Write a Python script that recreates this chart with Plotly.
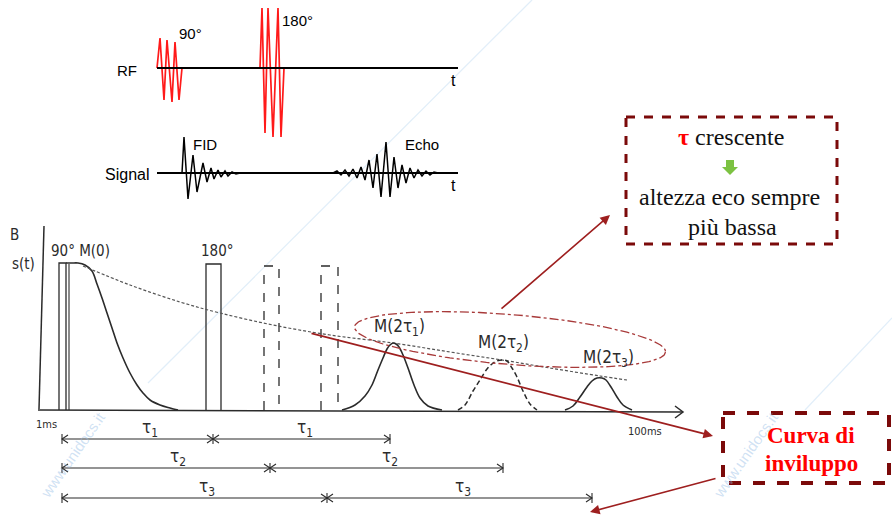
import math
import plotly.graph_objects as go

W, H = 892, 516

# ---------------- top diagram: RF pulses and signal ----------------
rf_line_x = [157, 458]
rf_line_y = [68, 68]
rf90_x = [157, 160, 164, 167, 172, 175, 179, 182]
rf90_y = [68, 38, 100, 40, 102, 42, 100, 68]
rf180_x = [260, 262, 265, 268, 273, 278, 281, 284]
rf180_y = [68, 8, 133, 8, 137, 8, 137, 68]

sig_line_x = [157, 458]
sig_line_y = [173, 173]
fid_x = [182, 184, 188, 193, 197, 203, 207, 211, 214, 218, 221, 225, 228, 232, 236, 240]
fid_y = [173, 137, 199, 155, 192, 163, 182, 168, 179, 170, 177, 171, 176, 172, 174, 173]
echo_x = [333, 337, 341, 345, 349, 353, 357, 361, 365, 369, 373, 377, 381, 386, 390,
          394, 398, 402, 406, 410, 414, 418, 422, 426, 430, 434, 438]
echo_y = [173, 171, 175, 170, 176, 169, 178, 167, 180, 160, 188, 154, 197, 142, 197,
          157, 188, 165, 183, 168, 178, 170, 176, 171, 175, 172, 173]

# ---------------- bottom diagram: spin echo train ----------------
yaxis_x = [39, 44]
yaxis_y = [409, 226]
xaxis_x = [38, 683]
xaxis_y = [410, 412]

p90_x = [59, 59, 66, 66]
p90_y = [410, 263, 263, 410]
pulse180_left = [206, 264, 321]
pulse180_right = [221, 279, 338]
pulse180_top = [264, 266, 266]
pulse180_dash = ["solid", "dash", "dash"]

fidb_x = [66, 72, 78, 85, 92, 97, 102, 107, 112, 117, 123, 130, 137, 143, 150, 160, 170, 178]
fidb_y = [263, 263, 263, 265, 271, 284, 298, 313, 328, 343, 358, 373, 385, 393, 400, 405, 408, 410]

env_x = [83, 130, 180, 220, 273, 330, 393, 450, 502, 550, 600, 627]
env_y = [266, 285, 302, 313, 325, 335, 343, 352, 360, 368, 376, 380]

e1_x = [342, 355, 365, 372, 378, 383, 387, 390, 393, 396, 399, 403, 408, 414, 420, 428, 442]
e1_y = [410, 405, 396, 385, 370, 358, 349, 345, 343, 344, 347, 355, 368, 385, 398, 406, 410]
e2_x = [458, 465, 473, 480, 487, 492, 497, 502, 507, 512, 517, 523, 530, 537]
e2_y = [410, 405, 391, 380, 369, 364, 361, 360, 361, 368, 377, 391, 404, 410]
e3_x = [565, 573, 580, 587, 592, 597, 602, 606, 611, 617, 623, 632]
e3_y = [410, 406, 397, 387, 381, 378, 378, 380, 387, 397, 405, 410]

m_labels = ["M(2τ<sub>1</sub>)", "M(2τ<sub>2</sub>)", "M(2τ<sub>3</sub>)"]
m_label_x = [399, 503, 608]
m_label_y = [327, 343, 358]

tau_names = ["τ<sub>1</sub>", "τ<sub>2</sub>", "τ<sub>3</sub>"]
tau_start = [62, 62, 62]
tau_mid = [213, 270, 327]
tau_end = [390, 503, 592]
tau_row_y = [439, 468, 498]

ink = "#2b2b2b"
dark_red = "#9e1f1f"
box_red = "#7b0a0a"
hand_font = "Liberation Sans Narrow, DejaVu Sans Condensed, sans-serif"
arial = "Liberation Sans, Arial, sans-serif"
serif = "Liberation Serif, Times New Roman, serif"

fig = go.Figure()

def line(x, y, color=ink, width=1.3, dash="solid", shape="linear"):
    fig.add_trace(go.Scatter(x=x, y=y, mode="lines", hoverinfo="skip", showlegend=False,
                             line=dict(color=color, width=width, dash=dash, shape=shape)))

# watermark lines
line([532, 148], [0, 383], color="rgba(170,205,238,0.35)", width=1.2)
line([892, 805], [318, 410], color="rgba(170,205,238,0.35)", width=1.2)

# top diagram
line(rf_line_x, rf_line_y, color="#000", width=2)
line(rf90_x, rf90_y, color="#ff1a1a", width=1.7)
line(rf180_x, rf180_y, color="#ff1a1a", width=1.7)
line(rf_line_x, rf_line_y, color="#000", width=2)
line(sig_line_x, sig_line_y, color="#000", width=2)
line(fid_x, fid_y, color="#000", width=1.5)
line(echo_x, echo_y, color="#000", width=1.5)

# bottom diagram axes
line(yaxis_x, yaxis_y, width=1.5)
line(xaxis_x, xaxis_y, width=1.5)
line([xaxis_x[1] - 8, xaxis_x[1], xaxis_x[1] - 8],
     [xaxis_y[1] - 6, xaxis_y[1], xaxis_y[1] + 6], width=1.5)

# 90 pulse
line(p90_x, p90_y, width=1.3)
line([69, 69], [264, 410], width=1.1)
# 180 pulses
for xl, xr, top, dsh in zip(pulse180_left, pulse180_right, pulse180_top, pulse180_dash):
    line([xl, xl, xr, xr], [410, top, top, 410], width=1.3, dash=dsh)

# FID decay and envelope
line(fidb_x, fidb_y, width=1.6, shape="spline")
line(env_x, env_y, color="#555", width=1.2, dash="3px,2px", shape="spline")

# echoes
line(e1_x, e1_y, width=1.6, shape="spline")
line(e2_x, e2_y, width=1.5, dash="5px,3px", shape="spline")
line(e3_x, e3_y, width=1.6, shape="spline")

# tilted dash-dot ellipse
cx, cy, a, b, th = 510, 339.5, 156, 25, math.atan2(25, 310)
ex, ey = [], []
for i in range(181):
    t = 2 * math.pi * i / 180
    ex.append(cx + a * math.cos(t) * math.cos(th) - b * math.sin(t) * math.sin(th))
    ey.append(cy + a * math.cos(t) * math.sin(th) + b * math.sin(t) * math.cos(th))
line(ex, ey, color="#a83a3a", width=1.3, dash="dashdot")

# tau interval arrows
def chevron(xt, y, direction):
    line([xt - 6 * direction, xt, xt - 6 * direction], [y - 4, y, y + 4], width=1.1)

for name, xs, xm, xe, yr in zip(tau_names, tau_start, tau_mid, tau_end, tau_row_y):
    line([xs, xe], [yr, yr], width=1.1)
    line([xs, xs], [yr - 5, yr + 5], width=1.1)
    line([xm, xm], [yr - 5, yr + 5], width=1.1)
    line([xe, xe], [yr - 5, yr + 5], width=1.1)
    chevron(xs, yr, -1)
    chevron(xm, yr, 1)
    chevron(xm, yr, -1)
    chevron(xe, yr, 1)

annotations = []
def text(x, y, s, size=15, color=ink, family=hand_font, xanchor="center", angle=0):
    annotations.append(dict(x=x, y=y, xref="x", yref="y", text=s, showarrow=False,
                            font=dict(size=size, color=color, family=family),
                            xanchor=xanchor, yanchor="middle", textangle=angle))

for name, xs, xm, xe, yr in zip(tau_names, tau_start, tau_mid, tau_end, tau_row_y):
    text((xs + xm) / 2 + 12, yr - 11, name, size=17)
    text((xm + xe) / 2 + 3, yr - 11, name, size=17)

for s, x, y in zip(m_labels, m_label_x, m_label_y):
    text(x, y, s, size=17)

# top labels
text(127, 70, "RF", size=15, color="#000", family=arial)
text(127, 174, "Signal", size=16, color="#000", family=arial)
text(453, 80, "t", size=16, color="#000", family=arial)
text(453, 185, "t", size=16, color="#000", family=arial)
text(190, 33, "90°", size=15, color="#000", family=arial)
text(297, 20, "180°", size=15, color="#000", family=arial)
text(205, 144, "FID", size=15, color="#000", family=arial)
text(422, 144, "Echo", size=15, color="#000", family=arial)

# bottom labels
text(14, 235, "B", size=15)
text(23, 264, "s(t)", size=15)
text(80, 251, "90° M(0)", size=15)
text(217, 251, "180°", size=15)
text(46, 424, "1ms", size=11)
text(645, 431, "100ms", size=11)

# boxes
shapes = [
    dict(type="rect", xref="x", yref="y", x0=626, y0=117, x1=837, y1=244,
         line=dict(color=box_red, width=3, dash="dash")),
    dict(type="rect", xref="x", yref="y", x0=723, y0=413, x1=889, y1=483,
         line=dict(color=box_red, width=4, dash="dash")),
    dict(type="path", xref="x", yref="y",
         path="M 726,160 L 734,160 L 734,167 L 738,167 L 730,175 L 722,167 L 726,167 Z",
         fillcolor="#7cc242", line=dict(width=0)),
]

text(731, 137, "<b><span style='color:#ff0000'>τ</span></b> crescente", size=24,
     color="#111", family=serif)
text(729, 197, "altezza eco sempre", size=24, color="#111", family=serif)
text(732, 227, "più bassa", size=24, color="#111", family=serif)
text(811, 435, "<b>Curva di</b>", size=23, color="#ff0000", family=serif)
text(811, 463, "<b>inviluppo</b>", size=23, color="#ff0000", family=serif)

# watermark text
text(72, 455, "www.unidocs.it", size=15, color="rgba(150,190,230,0.45)", family=arial, angle=-55)
text(745, 455, "www.unidocs.it", size=15, color="rgba(150,190,230,0.45)", family=arial, angle=-55)

# red arrows
def arrow(x0, y0, x1, y1):
    annotations.append(dict(x=x1, y=y1, ax=x0, ay=y0, xref="x", yref="y", axref="x", ayref="y",
                            text="", showarrow=True, arrowhead=2, arrowsize=1.2,
                            arrowwidth=1.6, arrowcolor=dark_red))

arrow(310, 333, 713, 436)
arrow(717, 478, 590, 512)
arrow(500, 310, 610, 215)

fig.update_layout(
    width=W, height=H, margin=dict(l=0, r=0, t=0, b=0),
    paper_bgcolor="white", plot_bgcolor="white",
    xaxis=dict(range=[0, W], visible=False, fixedrange=True),
    yaxis=dict(range=[H, 0], visible=False, fixedrange=True),
    annotations=annotations, shapes=shapes, showlegend=False,
)

fig.write_html("out.html")
